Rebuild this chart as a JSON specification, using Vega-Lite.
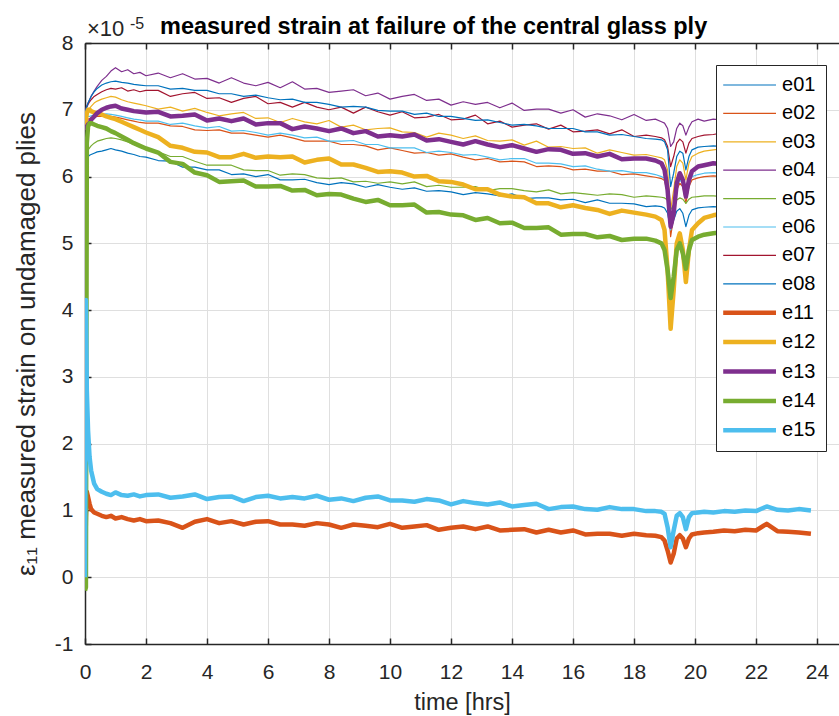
{
"$schema":"https://vega.github.io/schema/vega-lite/v6.json",
"autosize":{"type":"none"},
"padding":{"left":85,"top":43,"right":0,"bottom":72},
"width":754,"height":601,
"background":"white",
"config":{"view":{"stroke":null},"font":"Liberation Sans"},
"title":{"text":"measured strain at failure of the central glass ply","fontSize":23.5,"fontWeight":"bold","font":"Liberation Sans","color":"black","anchor":"start","frame":"group","dx":75,"offset":-41,"baseline":"alphabetic"},
"layer":[
{"data":{"values":[{
"t":[0,0.03,0.06,0.1,0.15,0.2,0.3,0.4,0.55,0.7,0.85,1.0,1.2,1.4,1.6,1.8,2.0,2.4,2.8,3.2,3.6,4.0,4.4,4.8,5.2,5.6,6.0,6.4,6.8,7.2,7.6,8.0,8.4,8.8,9.2,9.6,10.0,10.4,10.8,11.2,11.6,12.0,12.4,12.8,13.2,13.6,14.0,14.4,14.8,15.2,15.6,16.0,16.4,16.8,17.2,17.6,18.0,18.4,18.7,18.9,19.0,19.1,19.2,19.3,19.4,19.5,19.6,19.7,19.8,19.9,20.1,20.3,20.6,20.95,21.3,21.65,22.0,22.35,22.7,23.05,23.4,23.8],
"e01":[6.2,6.25,6.28,6.3,6.32,6.33,6.35,6.37,6.38,6.4,6.42,6.4,6.38,6.35,6.33,6.3,6.29,6.24,6.23,6.14,6.14,6.10,6.10,6.03,6.04,6.00,6.03,5.95,5.95,5.96,5.91,5.88,5.91,5.89,5.84,5.88,5.84,5.81,5.83,5.78,5.79,5.77,5.73,5.76,5.74,5.71,5.74,5.67,5.68,5.68,5.65,5.66,5.61,5.65,5.60,5.60,5.59,5.55,5.56,5.55,5.53,5.45,5.2,5.35,5.48,5.52,5.45,5.25,5.42,5.5,5.53,5.54,5.55,5.54,5.56,5.55,5.57,5.56,5.58,5.57,5.56,5.58],
"e02":[6.8,6.82,6.84,6.86,6.87,6.88,6.89,6.9,6.9,6.91,6.9,6.89,6.87,6.85,6.83,6.81,6.8,6.80,6.76,6.75,6.70,6.69,6.70,6.65,6.65,6.62,6.59,6.62,6.58,6.53,6.53,6.53,6.48,6.48,6.46,6.40,6.43,6.39,6.35,6.36,6.32,6.34,6.29,6.25,6.27,6.22,6.23,6.22,6.15,6.16,6.15,6.10,6.11,6.08,6.08,6.03,6.04,6.01,5.99,5.97,5.94,5.75,5.1,5.4,5.8,5.9,5.85,5.6,5.85,5.95,5.98,6.0,6.01,6.0,6.03,6.02,6.04,6.03,6.05,6.04,6.06,6.05],
"e03":[6.85,6.9,6.95,7.0,7.02,7.05,7.1,7.13,7.16,7.18,7.2,7.19,7.15,7.12,7.1,7.08,7.06,7.01,7.04,6.98,7.02,6.96,6.91,6.94,6.96,6.87,6.88,6.81,6.87,6.82,6.79,6.84,6.74,6.77,6.70,6.72,6.73,6.67,6.66,6.59,6.65,6.62,6.57,6.61,6.54,6.53,6.55,6.47,6.53,6.44,6.45,6.42,6.43,6.35,6.40,6.36,6.32,6.33,6.3,6.28,6.25,6.1,5.5,5.8,6.15,6.25,6.2,5.95,6.2,6.3,6.35,6.38,6.4,6.42,6.44,6.43,6.45,6.46,6.45,6.47,6.46,6.48],
"e04":[6.98,7.02,7.06,7.1,7.15,7.2,7.28,7.35,7.44,7.5,7.58,7.63,7.57,7.6,7.54,7.56,7.51,7.55,7.48,7.54,7.46,7.47,7.40,7.48,7.40,7.36,7.41,7.33,7.42,7.31,7.32,7.26,7.28,7.30,7.21,7.25,7.16,7.20,7.23,7.14,7.16,7.07,7.12,7.08,7.11,7.03,7.10,6.99,7.01,7.01,6.95,7.00,6.89,6.94,6.91,6.85,6.93,6.84,6.86,6.82,6.8,6.72,6.45,6.52,6.72,6.8,6.76,6.62,6.74,6.82,6.86,6.83,6.86,6.84,6.88,6.85,6.87,6.84,6.86,6.88,6.85,6.87],
"e05":[6.3,6.33,6.36,6.4,6.43,6.46,6.5,6.53,6.55,6.57,6.58,6.57,6.55,6.52,6.48,6.45,6.42,6.37,6.30,6.30,6.23,6.17,6.17,6.17,6.10,6.09,6.09,6.02,6.04,6.03,5.98,5.97,5.98,5.92,5.93,5.90,5.92,5.89,5.92,5.85,5.87,5.84,5.84,5.85,5.79,5.82,5.82,5.79,5.77,5.80,5.74,5.76,5.74,5.72,5.74,5.73,5.69,5.71,5.7,5.69,5.68,5.65,5.5,5.58,5.65,5.68,5.66,5.6,5.66,5.69,5.7,5.71,5.71,5.7,5.72,5.71,5.73,5.72,5.74,5.73,5.72,5.74],
"e06":[6.85,6.87,6.88,6.9,6.9,6.91,6.92,6.93,6.93,6.94,6.93,6.92,6.9,6.88,6.86,6.85,6.83,6.83,6.78,6.80,6.76,6.73,6.75,6.68,6.69,6.66,6.62,6.65,6.62,6.58,6.59,6.53,6.53,6.54,6.48,6.48,6.43,6.43,6.43,6.36,6.38,6.36,6.32,6.33,6.29,6.25,6.27,6.27,6.20,6.20,6.19,6.15,6.16,6.11,6.08,6.09,6.06,6.06,6.03,6.0,5.97,5.8,5.2,5.5,5.85,5.95,5.9,5.7,5.9,6.0,6.03,6.05,6.06,6.05,6.08,6.07,6.09,6.08,6.1,6.09,6.11,6.1],
"e07":[6.95,7.0,7.04,7.08,7.12,7.15,7.2,7.23,7.27,7.3,7.32,7.31,7.33,7.28,7.3,7.27,7.29,7.29,7.20,7.24,7.26,7.17,7.18,7.11,7.17,7.20,7.09,7.11,7.04,7.11,7.04,7.00,7.04,6.95,7.04,6.97,6.92,6.97,6.88,6.89,6.93,6.85,6.86,6.92,6.79,6.83,6.74,6.77,6.79,6.71,6.77,6.67,6.68,6.70,6.64,6.70,6.60,6.62,6.6,6.58,6.55,6.45,6.15,6.3,6.5,6.56,6.52,6.35,6.5,6.57,6.6,6.62,6.63,6.66,6.62,6.68,6.64,6.67,6.65,6.69,6.66,6.68],
"e08":[6.95,7.0,7.05,7.1,7.15,7.2,7.27,7.32,7.37,7.4,7.42,7.43,7.41,7.4,7.38,7.37,7.36,7.36,7.31,7.32,7.29,7.29,7.24,7.24,7.20,7.22,7.18,7.15,7.16,7.11,7.11,7.08,7.04,7.05,7.04,6.99,6.98,6.98,6.93,6.95,6.90,6.90,6.87,6.84,6.85,6.81,6.77,6.78,6.76,6.72,6.72,6.72,6.67,6.67,6.62,6.63,6.60,6.57,6.56,6.55,6.52,6.4,5.85,6.05,6.3,6.38,6.35,6.1,6.3,6.4,6.44,6.45,6.46,6.45,6.47,6.46,6.48,6.47,6.49,6.48,6.5,6.49],
"e11":[0.0,0.9,1.28,1.2,1.1,1.02,0.97,0.95,0.92,0.9,0.92,0.88,0.9,0.87,0.85,0.87,0.84,0.85,0.81,0.74,0.83,0.87,0.81,0.84,0.79,0.83,0.84,0.79,0.79,0.77,0.81,0.79,0.74,0.79,0.77,0.75,0.80,0.74,0.76,0.78,0.71,0.74,0.76,0.72,0.76,0.70,0.71,0.72,0.67,0.71,0.67,0.70,0.64,0.65,0.65,0.62,0.65,0.63,0.62,0.6,0.55,0.4,0.22,0.35,0.58,0.63,0.58,0.45,0.58,0.64,0.66,0.67,0.68,0.7,0.69,0.71,0.7,0.8,0.69,0.68,0.67,0.65],
"e12":[6.7,6.85,6.95,7.0,7.0,6.98,6.96,6.95,6.93,6.9,6.88,6.86,6.82,6.78,6.74,6.7,6.66,6.59,6.46,6.43,6.37,6.36,6.29,6.29,6.34,6.28,6.30,6.29,6.30,6.21,6.25,6.27,6.18,6.18,6.13,6.07,6.08,6.06,6.00,6.01,5.93,5.92,5.88,5.81,5.81,5.73,5.70,5.69,5.60,5.60,5.54,5.57,5.53,5.50,5.44,5.49,5.46,5.43,5.4,5.35,5.2,4.6,3.72,4.3,5.0,5.15,4.9,4.42,4.9,5.2,5.3,5.38,5.42,5.45,5.47,5.49,5.5,5.52,5.53,5.55,5.56,5.58],
"e13":[6.7,6.72,6.75,6.78,6.8,6.85,6.9,6.95,7.0,7.03,7.05,7.06,7.02,7.0,6.98,6.97,6.96,6.97,6.90,6.91,6.93,6.84,6.87,6.83,6.87,6.78,6.80,6.80,6.71,6.75,6.72,6.68,6.72,6.65,6.68,6.60,6.62,6.60,6.63,6.54,6.56,6.52,6.48,6.53,6.48,6.44,6.47,6.42,6.37,6.41,6.40,6.34,6.35,6.30,6.34,6.26,6.27,6.27,6.24,6.2,6.1,5.8,5.25,5.45,5.9,6.05,5.95,5.7,5.95,6.08,6.15,6.17,6.2,6.18,6.22,6.2,6.24,6.21,6.25,6.23,6.26,6.24],
"e14":[-0.2,-0.15,6.5,6.75,6.8,6.8,6.78,6.76,6.74,6.72,6.68,6.65,6.6,6.55,6.5,6.46,6.42,6.36,6.22,6.19,6.06,6.02,5.92,5.93,5.94,5.85,5.85,5.86,5.79,5.80,5.72,5.74,5.73,5.67,5.62,5.65,5.57,5.57,5.58,5.46,5.47,5.43,5.42,5.35,5.38,5.30,5.31,5.23,5.23,5.24,5.13,5.14,5.14,5.09,5.11,5.05,5.07,5.07,5.04,5.0,4.9,4.6,4.18,4.5,4.9,5.0,4.85,4.62,4.9,5.05,5.1,5.13,5.15,5.17,5.16,5.18,5.2,5.19,5.21,5.2,5.22,5.21],
"e15":[0.0,4.15,2.8,2.2,1.8,1.6,1.4,1.32,1.28,1.25,1.23,1.27,1.23,1.22,1.24,1.21,1.23,1.24,1.19,1.21,1.24,1.17,1.20,1.21,1.14,1.20,1.22,1.18,1.20,1.18,1.22,1.16,1.18,1.14,1.19,1.21,1.15,1.15,1.13,1.17,1.15,1.09,1.14,1.11,1.09,1.12,1.06,1.08,1.10,1.02,1.05,1.06,1.02,1.01,1.05,1.02,1.02,0.99,0.99,0.98,0.95,0.75,0.45,0.7,0.92,0.96,0.9,0.72,0.9,0.96,0.97,0.98,0.97,0.99,0.98,1.0,0.99,1.06,1.01,1.0,1.02,1.0]
}]},
"transform":[
{"flatten":["t","e01","e02","e03","e04","e05","e06","e07","e08","e11","e12","e13","e14","e15"]},
{"fold":["e01","e02","e03","e04","e05","e06","e07","e08","e11","e12","e13","e14","e15"],"as":["s","v"]},
{"filter":"isValid(datum.v)"}
],
"mark":{"type":"line","clip":true,"strokeJoin":"round"},
"encoding":{
"x":{"field":"t","type":"quantitative","scale":{"domain":[0,24.72],"nice":false,"zero":false},
"axis":{"orient":"bottom","values":[0,2,4,6,8,10,12,14,16,18,20,22,24],"title":"time [hrs]","titleFont":"Liberation Sans","titleFontSize":23.5,"titleFontWeight":"normal","titleColor":"#262626","titlePadding":8,"labelFont":"Liberation Sans","labelFontSize":21,"labelColor":"#262626","labelPadding":23,"labelFlush":false,"labelOverlap":false,"tickSize":-6,"tickColor":"#262626","tickWidth":1.5,"domainColor":"#262626","domainWidth":1.5,"grid":true,"gridColor":"#dfdfdf","gridWidth":1}},
"y":{"field":"v","type":"quantitative","scale":{"domain":[-1,8],"nice":false,"zero":false},
"axis":{"values":[-1,0,1,2,3,4,5,6,7,8],"labelExpr":"datum.value + ''","title":"ε₁₁ measured strain on undamaged plies","titleFont":"Liberation Sans","titleFontSize":26,"titleFontWeight":"normal","titleColor":"#262626","titlePadding":15,"labelFont":"Liberation Sans","labelFontSize":21,"labelColor":"#262626","labelPadding":18,"labelFlush":false,"labelOverlap":false,"tickSize":-6,"tickColor":"#262626","tickWidth":1.5,"domainColor":"#262626","domainWidth":1.5,"grid":true,"gridColor":"#dfdfdf","gridWidth":1}},
"color":{"field":"s","type":"nominal",
"scale":{"domain":["e01","e02","e03","e04","e05","e06","e07","e08","e11","e12","e13","e14","e15"],"range":["#0072BD","#D95319","#EDB120","#7E2F8E","#77AC30","#4DBEEE","#A2142F","#0072BD","#D95319","#EDB120","#7E2F8E","#77AC30","#4DBEEE"]},
"legend":{"orient":"none","legendX":631,"legendY":22,"title":null,"symbolType":"M-3.3,0H3.3","symbolSize":256,"symbolOffset":13.1,"labelOffset":22,"labelFont":"Liberation Sans","labelFontSize":20,"labelColor":"black","padding":10,"rowPadding":8.4,"strokeColor":"#262626","fillColor":"white"}},
"strokeWidth":{"field":"s","type":"nominal",
"scale":{"type":"ordinal","domain":["e01","e02","e03","e04","e05","e06","e07","e08","e11","e12","e13","e14","e15"],"range":[1.2,1.2,1.2,1.2,1.2,1.2,1.2,1.2,4.5,4.5,4.5,4.5,4.5]},
"legend":{"orient":"none","legendX":631,"legendY":22,"title":null,"symbolType":"M-3.3,0H3.3","symbolSize":256,"symbolOffset":13.1,"labelOffset":22,"labelFont":"Liberation Sans","labelFontSize":20,"labelColor":"black","padding":10,"rowPadding":8.4,"strokeColor":"#262626","fillColor":"white"}}
}},
{"data":{"values":[{}]},
"mark":{"type":"text","text":"×10","align":"left","baseline":"alphabetic","dx":2,"dy":-7,"fontSize":22,"font":"Liberation Sans","color":"#262626"},
"encoding":{
"x":{"datum":0,"type":"quantitative","axis":{"orient":"top","values":[0,2,4,6,8,10,12,14,16,18,20,22,24],"labels":false,"title":null,"grid":false,"tickSize":-6,"tickColor":"#262626","tickWidth":1.5,"domainColor":"#262626","domainWidth":1.5}},
"y":{"datum":8,"type":"quantitative"}}},
{"data":{"values":[{}]},
"mark":{"type":"text","text":"-5","align":"left","baseline":"alphabetic","dx":45,"dy":-14,"fontSize":16,"font":"Liberation Sans","color":"#262626"},
"encoding":{
"x":{"datum":0,"type":"quantitative","axis":null},
"y":{"datum":8,"type":"quantitative"}}}
],
"resolve":{"axis":{"x":"independent"}}
}
